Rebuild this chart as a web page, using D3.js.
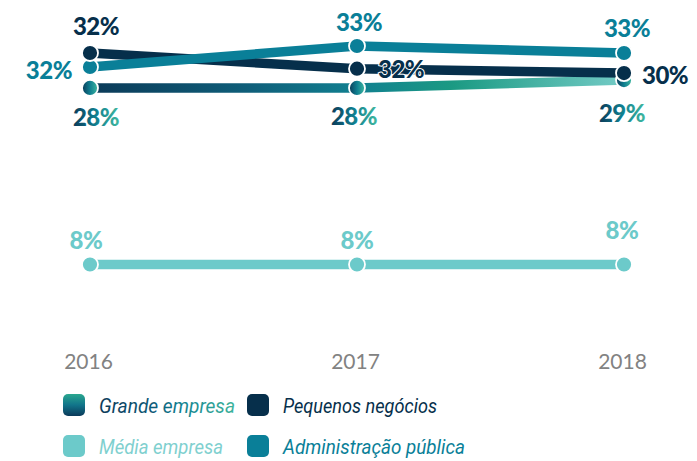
<!DOCTYPE html>
<html><head><meta charset="utf-8">
<script src="https://cdn.jsdelivr.net/npm/d3@7"></script>
<style>
html,body{margin:0;padding:0;background:#fff;}
svg{display:block;}
</style></head>
<body>
<svg id="chart" width="697" height="461"></svg>
<script>
// ---- data ----
const years = ["2016", "2017", "2018"];
const grandeValues = [28.2, 28.2, 29.1];
const grandeLabels = ["28%", "28%", "29%"];
const pequenosValues = [32.2, 30.4, 29.9];
const pequenosLabels = ["32%", "32%", "30%"];
const adminValues = [30.6, 33.0, 32.2];
const adminLabels = ["32%", "33%", "33%"];
const mediaValues = [8.0, 8.0, 8.0];
const mediaLabels = ["8%", "8%", "8%"];
const legendNames = ["Grande empresa", "Pequenos negócios", "Média empresa", "Administração pública"];

// ---- layout / style ----
const svg = d3.select("#chart");
const x = d3.scalePoint().domain(years).range([90, 624]);
const y = d3.scaleLinear().domain([8, 33]).range([264.5, 46]);

const C = {
  navy: "#062f4b",
  admin: "#0a7f98",
  media: "#6ccaca",
  year: "#828282"
};

const defs = svg.append("defs");
const gLine = defs.append("linearGradient").attr("id", "gLine")
  .attr("gradientUnits", "userSpaceOnUse")
  .attr("x1", x("2016")).attr("x2", x("2018")).attr("y1", 0).attr("y2", 0);
[[0, "#0b3a58"], [0.3, "#0f5f7a"], [0.5, "#118090"], [0.68, "#1b9a83"], [1, "#74cbc6"]]
  .forEach(([o, c]) => gLine.append("stop").attr("offset", o).attr("stop-color", c));
const gObj = defs.append("linearGradient").attr("id", "gObj")
  .attr("x1", 0).attr("x2", 1).attr("y1", 0).attr("y2", 0);
[[0, "#0b3a58"], [0.5, "#0f7f90"], [1, "#3fb8a0"]]
  .forEach(([o, c]) => gObj.append("stop").attr("offset", o).attr("stop-color", c));
const gSq = defs.append("linearGradient").attr("id", "gSq")
  .attr("x1", 0).attr("x2", 0).attr("y1", 0).attr("y2", 1);
[[0, "#2aa78f"], [0.5, "#11748a"], [1, "#0b3a5a"]]
  .forEach(([o, c]) => gSq.append("stop").attr("offset", o).attr("stop-color", c));
const gTxt = defs.append("linearGradient").attr("id", "gTxt")
  .attr("x1", 0).attr("x2", 1).attr("y1", 0).attr("y2", 0);
[[0, "#0b3a58"], [0.4, "#0d5a78"], [0.6, "#118090"], [1, "#3cb49c"]]
  .forEach(([o, c]) => gTxt.append("stop").attr("offset", o).attr("stop-color", c));

const series = [
  {key: "media", values: mediaValues, labels: mediaLabels, color: C.media,
   place: [{a: "middle", dx: -4, dy: -16}, {a: "middle", dx: 0, dy: -16}, {a: "middle", dx: -2, dy: -26}]},
  {key: "grande", values: grandeValues, labels: grandeLabels, color: "url(#gLine)", dot: "url(#gObj)", text: "url(#gObj)",
   place: [{a: "middle", dx: 6, dy: 38}, {a: "middle", dx: -3, dy: 37}, {a: "middle", dx: -2, dy: 42}]},
  {key: "admin", values: adminValues, labels: adminLabels, color: C.admin,
   place: [{a: "end", dx: -18, dy: 12}, {a: "middle", dx: 2, dy: -15}, {a: "middle", dx: 3, dy: -16}]},
  {key: "pequenos", values: pequenosValues, labels: pequenosLabels, color: C.navy,
   place: [{a: "middle", dx: 6, dy: -18}, {a: "start", dx: 21, dy: 9}, {a: "start", dx: 18, dy: 11}]}
];

const line = d3.line().x((d, i) => x(years[i])).y(d => y(d));

const lineOrder = ["media", "grande", "pequenos", "admin"];
lineOrder.forEach(k => {
  const s = series.find(z => z.key === k);
  svg.append("path").datum(s.values)
    .attr("d", line)
    .attr("fill", "none")
    .attr("stroke", s.color)
    .attr("stroke-width", 9.5);
});

const dotOrder = ["media", "grande", "admin", "pequenos"];
dotOrder.forEach(k => {
  const s = series.find(z => z.key === k);
  svg.selectAll(null).data(s.values).enter().append("circle")
    .attr("cx", (d, i) => x(years[i]))
    .attr("cy", d => y(d))
    .attr("r", 8)
    .attr("fill", s.dot || s.color)
    .attr("stroke", "#fff")
    .attr("stroke-width", 1.8);
});

series.forEach(s => {
  svg.selectAll(null).data(s.values).enter().append("text")
    .attr("x", (d, i) => x(years[i]) + s.place[i].dx)
    .attr("y", (d, i) => y(d) + s.place[i].dy)
    .attr("text-anchor", (d, i) => s.place[i].a)
    .attr("font-family", "Lato, 'Open Sans', sans-serif")
    .attr("font-weight", 900)
    .attr("font-size", 24)
    .attr("letter-spacing", -0.5)
    .attr("fill", s.text || s.color)
    .attr("stroke", "#fff")
    .attr("stroke-width", 2)
    .attr("paint-order", "stroke")
    .text((d, i) => s.labels[i]);
});

const xAxis = d3.axisBottom(x).tickSize(0).tickPadding(0);
const ax = svg.append("g").attr("transform", "translate(-2,354)").call(xAxis);
ax.select(".domain").remove();
ax.selectAll("text")
  .attr("font-family", "Lato, sans-serif")
  .attr("font-size", 21)
  .attr("fill", C.year)
  .attr("dy", "0.71em");

// legend
const legendItems = [
  {name: legendNames[0], fill: "url(#gSq)", text: "url(#gTxt)", col: 0, row: 0, w: 136},
  {name: legendNames[1], fill: C.navy, text: C.navy, col: 1, row: 0, w: 154},
  {name: legendNames[2], fill: C.media, text: "#7fd0cf", col: 0, row: 1, w: 124},
  {name: legendNames[3], fill: C.admin, text: C.admin, col: 1, row: 1, w: 182}
];
const colX = [63, 247], rowY = [405, 446];
const lg = svg.append("g");
legendItems.forEach(it => {
  const g = lg.append("g").attr("transform", `translate(${colX[it.col]},${rowY[it.row]})`);
  g.append("rect").attr("x", 0).attr("y", -11).attr("width", 22).attr("height", 22)
    .attr("rx", 5).attr("fill", it.fill);
  g.append("text").attr("x", 36).attr("y", 7.5)
    .attr("font-family", "Roboto, sans-serif")
    .attr("font-style", "italic")
    .attr("font-weight", 400)
    .attr("font-size", 21)
    .attr("textLength", it.w)
    .attr("lengthAdjust", "spacingAndGlyphs")
    .attr("fill", it.text)
    .text(it.name);
});
</script>
</body></html>
